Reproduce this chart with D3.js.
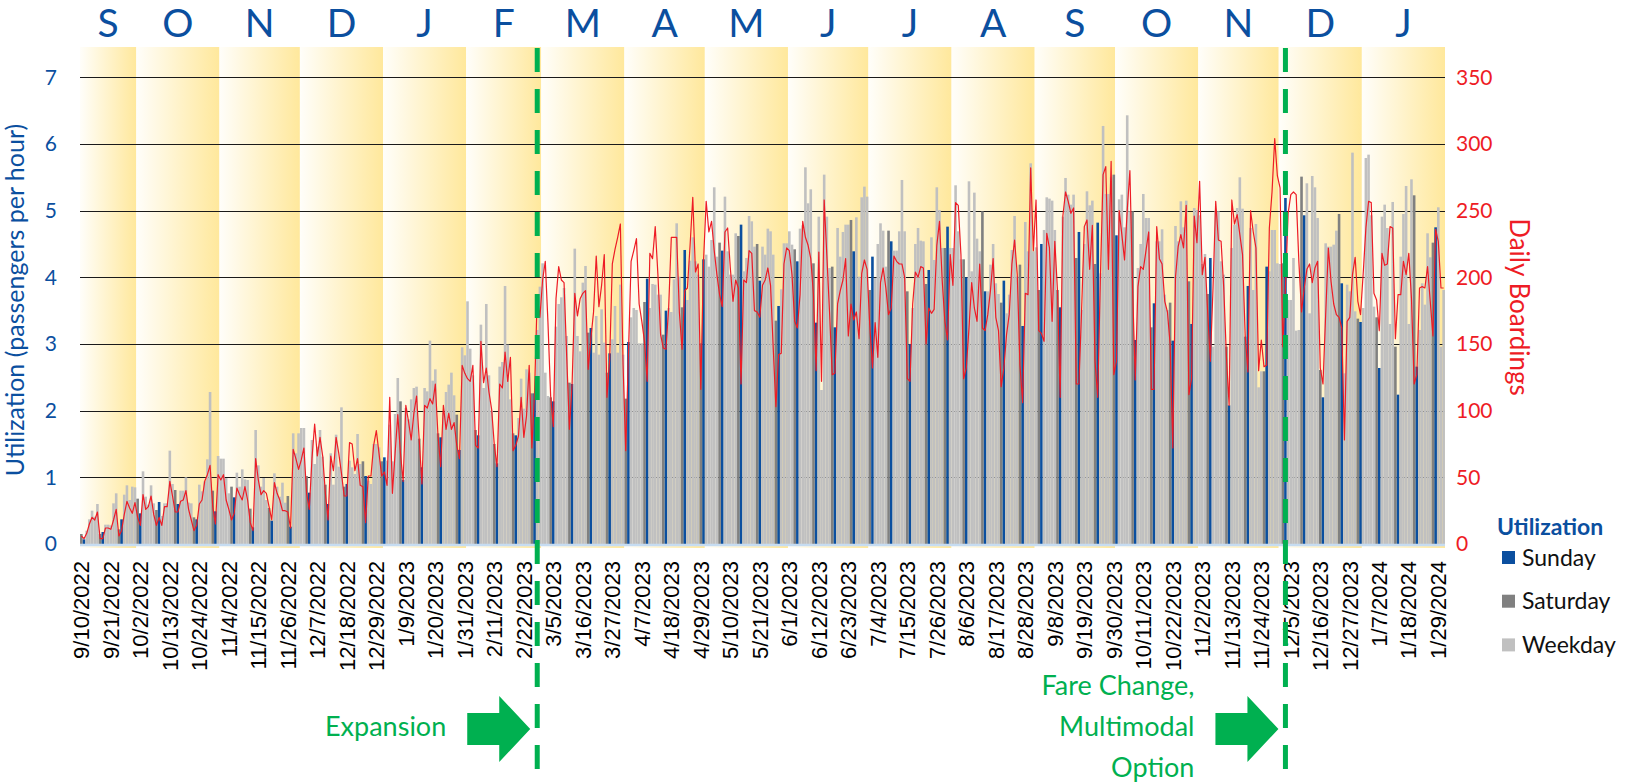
<!DOCTYPE html>
<html>
<head>
<meta charset="utf-8">
<title>Utilization and Daily Boardings</title>
<style>
body { margin: 0; background: #fff; }
svg text { font-family: Lato, "Open Sans", sans-serif; }
</style>
</head>
<body>
<script src="https://cdn.jsdelivr.net/npm/d3@7/dist/d3.min.js"></script>
<script>

// first day of the series (a Saturday)
var startDate = "09/10/2022";

// utilization, passengers per hour, one value per day (rows = weeks starting Saturday)
var utilization = [
0.15,0.07,0.20,0.37,0.50,0.41,0.60,
0.15,0.18,0.29,0.29,0.28,0.61,0.76,
0.22,0.37,0.74,0.88,0.66,0.86,0.85,
0.68,0.46,1.09,0.71,0.59,0.88,0.61,
0.51,0.63,0.42,0.61,0.61,1.40,0.90,
0.81,0.60,0.80,0.80,1.00,0.62,0.61,
0.40,0.37,0.89,0.79,0.94,1.27,2.28,
0.80,0.49,1.32,1.28,1.28,0.99,0.76,
0.86,0.70,1.07,0.86,1.12,0.97,0.96,
0.53,0.25,1.71,1.18,0.86,0.99,0.66,
0.54,0.35,1.06,0.86,0.71,0.92,0.62,
0.72,0.26,1.66,1.36,1.66,1.74,1.74,
1.02,0.77,1.56,1.20,1.46,1.71,1.31,
0.89,0.60,1.36,0.89,1.64,1.16,2.05,
0.86,0.90,1.25,1.15,1.05,1.65,1.20,
1.24,1.02,0.95,0.90,1.50,1.50,1.45,
1.24,1.30,1.25,1.79,1.24,1.95,2.49,
2.14,0.96,2.04,1.87,2.17,2.34,2.36,
1.58,1.15,2.34,2.29,3.05,2.45,2.62,
1.66,1.60,1.97,2.28,2.39,2.57,2.23,
1.94,1.41,2.95,2.83,3.64,2.93,2.53,
1.71,1.63,3.29,2.34,3.60,2.53,2.00,
1.50,1.21,2.66,2.73,3.87,2.99,2.17,
1.66,1.63,1.89,2.48,2.03,2.62,2.57,
2.26,2.26,3.21,3.86,4.21,2.57,2.22,
2.20,2.14,3.26,3.60,3.70,3.84,3.12,
2.42,2.40,4.43,3.12,2.89,3.92,4.17,
3.17,3.24,2.87,3.42,2.84,3.52,3.02,
2.57,2.86,3.07,3.57,2.87,3.89,2.84,
2.18,3.03,3.40,3.54,3.51,3.01,3.01,
3.63,3.98,3.54,3.90,3.89,3.74,3.74,
3.14,3.50,3.54,3.48,3.97,4.81,4.01,
3.55,4.41,3.66,4.25,4.60,4.24,4.04,
3.01,4.27,4.34,4.16,4.56,5.35,4.31,
4.52,4.40,5.21,4.39,4.04,4.04,4.66,
4.62,4.79,4.09,4.29,4.92,4.84,4.46,
4.50,3.95,4.46,4.34,4.73,4.69,4.34,
3.35,3.57,3.82,4.51,4.51,4.69,4.49,
4.42,4.24,4.73,4.78,5.65,5.11,5.32,
4.21,3.32,4.91,2.31,5.54,4.91,4.14,
4.16,3.25,4.74,4.31,4.68,4.79,4.79,
4.86,4.39,4.90,4.01,5.20,5.36,5.21,
3.81,4.31,3.99,4.50,4.81,4.70,4.16,
4.70,4.54,4.40,4.40,4.69,5.46,4.69,
3.79,3.00,3.54,4.50,4.74,4.55,4.54,
3.90,4.11,4.60,4.26,5.35,5.01,4.44,
4.44,4.76,4.44,4.44,5.38,4.69,4.27,
4.27,4.00,5.44,4.09,5.27,4.58,4.39,
4.99,3.79,3.79,4.19,4.50,3.91,3.75,
3.62,3.95,3.46,3.74,4.41,4.92,4.01,
4.19,3.27,4.83,4.39,5.71,4.39,4.45,
3.81,4.50,4.71,5.20,5.18,5.15,4.71,
3.81,3.55,4.91,5.49,5.24,5.09,5.24,
4.29,4.68,3.51,4.50,5.29,5.08,5.15,
4.20,4.82,4.06,6.27,5.25,5.25,5.50,
5.54,4.63,5.17,5.24,4.75,6.43,4.99,
4.99,3.06,4.14,4.50,5.25,4.89,4.89,
3.25,3.61,4.54,4.54,4.72,3.74,3.51,
3.62,3.05,4.77,4.54,5.14,4.75,5.15,
3.94,3.30,5.04,5.01,4.93,4.20,4.35,
3.75,4.29,2.96,5.00,4.99,4.24,4.04,
2.96,2.08,4.44,4.79,5.04,5.50,5.03,
3.11,3.87,4.74,3.81,4.80,2.35,2.59,
2.59,4.16,4.09,4.71,4.71,4.21,4.20,
4.21,5.19,3.66,3.66,4.29,3.20,3.21,
5.51,4.93,5.41,3.46,5.52,5.35,4.89,
2.61,2.20,4.51,4.46,4.46,4.49,4.70,
4.95,3.91,2.56,3.89,3.79,5.87,3.49,
3.38,3.33,3.54,5.79,5.84,4.93,3.56,
3.40,2.64,4.91,5.09,4.74,3.30,5.13,
2.96,2.24,4.31,4.95,5.37,3.30,5.47,
5.23,2.66,3.21,3.91,3.59,4.66,4.30,
4.52,4.75,5.05,2.96,3.81
];

// daily boardings, one value per day
var boardings = [
6,4,8,15,20,18,24,
4,4,12,12,11,18,26,
6,10,22,32,27,23,31,
20,14,37,26,28,36,22,
14,20,14,28,28,47,36,
24,24,32,33,40,26,18,
10,14,30,33,47,52,59,
28,15,52,48,52,33,26,
18,23,42,37,33,43,33,
16,10,64,48,37,40,38,
28,18,46,38,33,25,25,
24,12,71,64,56,63,72,
38,26,64,90,66,80,66,
38,18,66,55,80,68,53,
36,36,76,75,55,64,44,
43,16,51,51,74,85,68,
51,54,44,110,38,68,97,
68,47,104,92,78,98,111,
78,45,104,102,109,105,120,
81,58,104,86,98,86,91,
74,64,134,128,124,122,134,
74,72,152,121,132,114,101,
74,58,120,117,144,122,140,
70,74,81,110,80,96,134,
72,114,186,170,198,212,166,
111,88,184,208,198,196,140,
86,120,188,171,184,188,190,
131,154,174,216,178,194,217,
110,138,210,221,230,240,135,
70,142,212,220,229,180,167,
152,122,218,214,238,202,157,
147,146,177,230,230,230,174,
146,190,192,224,260,204,210,
116,212,257,234,242,220,202,
187,178,234,237,207,182,198,
192,120,198,196,220,218,175,
174,170,194,198,207,194,147,
103,142,143,210,222,220,202,
167,162,187,242,230,224,214,
187,130,219,122,258,216,174,
127,128,180,190,198,214,156,
180,168,174,154,203,213,206,
164,132,166,140,196,207,192,
172,177,216,212,210,210,200,
124,122,180,204,200,208,207,
150,177,173,176,224,242,198,
167,153,217,194,256,254,217,
124,132,162,196,177,167,210,
162,160,172,190,214,170,160,
118,132,157,172,210,228,202,
134,106,188,187,282,220,258,
160,158,152,233,222,167,227,
190,110,246,264,257,248,252,
120,120,176,238,243,206,239,
137,110,200,277,283,206,287,
127,137,250,232,213,250,280,
192,123,193,208,206,220,234,
116,116,238,214,210,182,174,
150,72,200,223,232,222,254,
112,124,246,226,272,202,215,
174,137,192,257,228,227,192,
140,104,258,240,247,232,217,
156,129,250,234,222,130,153,
133,134,237,264,304,276,267,
148,192,248,262,264,262,212,
174,192,206,210,196,207,212,
132,120,172,222,197,180,172,
170,162,78,167,170,202,215,
182,172,203,237,257,256,188,
183,160,218,209,210,238,237,
154,187,187,212,202,218,184,
120,127,192,193,192,208,182,
156,236,227,192,192
];

var tickLabels = [
"9/10/2022","9/21/2022","10/2/2022","10/13/2022","10/24/2022","11/4/2022","11/15/2022",
"11/26/2022","12/7/2022","12/18/2022","12/29/2022","1/9/2023","1/20/2023","1/31/2023",
"2/11/2023","2/22/2023","3/5/2023","3/16/2023","3/27/2023","4/7/2023","4/18/2023",
"4/29/2023","5/10/2023","5/21/2023","6/1/2023","6/12/2023","6/23/2023","7/4/2023",
"7/15/2023","7/26/2023","8/6/2023","8/17/2023","8/28/2023","9/8/2023","9/19/2023",
"9/30/2023","10/11/2023","10/22/2023","11/2/2023","11/13/2023","11/24/2023","12/5/2023",
"12/16/2023","12/27/2023","1/7/2024","1/18/2024","1/29/2024"
];

var monthLetters = ["S","O","N","D","J","F","M","A","M","J","J","A","S","O","N","D","J"];
var leftTicks = [0,1,2,3,4,5,6,7];
var rightTicks = [0,50,100,150,200,250,300,350];
var legendItems = ["Sunday","Saturday","Weekday"];
var legendColors = ["#0b4f9f","#808080","#c0c0c0"];
var eventDates = ["2/27/2023","12/3/2023"];
var eventLabels = [["Expansion"],["Fare Change,","Multimodal","Option"]];

var width = 1631, height = 783;
var left = 80, right = 1445, zeroY = 544, sevenY = 77.3;
var blue = "#0b4f9f", red = "#ee1c25", green = "#00b050";

var svg = d3.select("body").append("svg")
	.attr("width", width)
	.attr("height", height);

var parse = d3.timeParse("%m/%d/%Y");
var fmt = d3.timeFormat("%-m/%-d/%Y");
var first = parse(startDate);
var days = d3.range(utilization.length).map(function(i){ return d3.timeDay.offset(first, i); });
var keys = days.map(fmt);

var pad = 0.03;
var x = d3.scaleBand().domain(keys).range([left, right]).paddingInner(pad).paddingOuter(pad / 2);
var yL = d3.scaleLinear().domain([0, 7]).range([zeroY, sevenY]);
var yR = d3.scaleLinear().domain([0, 350]).range([zeroY, sevenY]);
var step = x.step();
function edge(i){ return i >= keys.length ? right : x(keys[i]) - step * pad / 2; }
function mid(k){ return x(k) + x.bandwidth() / 2; }

// gradient for the month bands
var defs = svg.append("defs");
var grad = defs.append("linearGradient").attr("id", "band");
grad.append("stop").attr("offset", "0%").attr("stop-color", "#fffefa");
grad.append("stop").attr("offset", "100%").attr("stop-color", "#ffe89c");

// month bands
var months = [];
days.forEach(function(d, i){
	if (i === 0 || d.getDate() === 1) months.push({start: i});
});
months.forEach(function(m, k){
	m.end = k < months.length - 1 ? months[k + 1].start : keys.length;
	m.letter = monthLetters[k];
});

svg.append("g").selectAll("rect")
	.data(months)
	.enter()
	.append("rect")
	.attr("x", function(d){ return edge(d.start); })
	.attr("width", function(d){ return edge(d.end) - edge(d.start); })
	.attr("y", 47)
	.attr("height", 548 - 47)
	.attr("fill", "url(#band)");

svg.append("g").selectAll("text")
	.data(months)
	.enter()
	.append("text")
	.attr("x", function(d){ return (edge(d.start) + edge(d.end)) / 2; })
	.attr("y", 37)
	.attr("text-anchor", "middle")
	.attr("font-size", 39)
	.attr("fill", blue)
	.text(function(d){ return d.letter; });

// gridlines
svg.append("g").selectAll("line")
	.data(leftTicks.filter(function(t){ return t > 0; }))
	.enter()
	.append("line")
	.attr("x1", left)
	.attr("x2", right)
	.attr("y1", function(d){ return Math.round(yL(d)) + 0.5; })
	.attr("y2", function(d){ return Math.round(yL(d)) + 0.5; })
	.attr("stroke", "#1a1a1a")
	.attr("stroke-width", 1);

// bars
svg.append("g").selectAll("rect")
	.data(keys)
	.enter()
	.append("rect")
	.attr("x", function(d){ return x(d); })
	.attr("width", x.bandwidth())
	.attr("y", function(d, i){ return yL(utilization[i]); })
	.attr("height", function(d, i){ return zeroY - yL(utilization[i]); })
	.attr("fill", function(d, i){
		var wd = days[i].getDay();
		return wd === 0 ? legendColors[0] : (wd === 6 ? legendColors[1] : legendColors[2]);
	});

// zero line
svg.append("line")
	.attr("x1", left).attr("x2", right)
	.attr("y1", zeroY + 1).attr("y2", zeroY + 1)
	.attr("stroke", "#c6dcf1")
	.attr("stroke-width", 2.5);

// boardings line
var line = d3.line()
	.x(function(d, i){ return mid(keys[i]); })
	.y(function(d){ return yR(d); });

svg.append("path")
	.datum(boardings)
	.attr("d", line)
	.attr("fill", "none")
	.attr("stroke", red)
	.attr("stroke-width", 1.2)
	.attr("stroke-linejoin", "round");

// left axis labels
var axL = svg.append("g")
	.attr("transform", "translate(" + left + ",0)")
	.call(d3.axisLeft(yL).tickValues(leftTicks).tickSize(0).tickPadding(23).tickFormat(d3.format("d")));
axL.select(".domain").remove();
axL.selectAll("text").attr("font-size", 21).attr("fill", blue).style("font-family", "Lato, sans-serif");

// right axis labels
var axR = svg.append("g")
	.attr("transform", "translate(" + right + ",0)")
	.call(d3.axisRight(yR).tickValues(rightTicks).tickSize(0).tickPadding(11).tickFormat(d3.format("d")));
axR.select(".domain").remove();
axR.selectAll("text").attr("font-size", 21).attr("fill", red).style("font-family", "Lato, sans-serif");

// date labels
var axB = svg.append("g")
	.attr("transform", "translate(0," + zeroY + ")")
	.call(d3.axisBottom(x).tickValues(tickLabels).tickSize(0));
axB.select(".domain").remove();
axB.selectAll("text")
	.attr("transform", "rotate(-90)")
	.attr("text-anchor", "end")
	.attr("x", -17)
	.attr("y", 0)
	.attr("dy", "0.35em")
	.attr("font-size", 22)
	.attr("fill", "#000")
	.style("font-family", "'Liberation Sans', Arial, sans-serif");

// axis titles
svg.append("text")
	.attr("transform", "translate(24,300) rotate(-90)")
	.attr("text-anchor", "middle")
	.attr("font-size", 25)
	.attr("fill", blue)
	.text("Utilization (passengers per hour)");

svg.append("text")
	.attr("transform", "translate(1510,307) rotate(90)")
	.attr("text-anchor", "middle")
	.attr("font-size", 26)
	.attr("fill", red)
	.text("Daily Boardings");

// legend
svg.append("text")
	.attr("x", 1497)
	.attr("y", 535)
	.attr("font-size", 23)
	.attr("font-weight", "bold")
	.attr("fill", blue)
	.text("Utilization");

var leg = svg.append("g").selectAll("g")
	.data(legendItems)
	.enter()
	.append("g")
	.attr("transform", function(d, i){ return "translate(1502," + (551 + i * 43.7) + ")"; });
leg.append("rect")
	.attr("width", 13).attr("height", 13)
	.attr("fill", function(d, i){ return legendColors[i]; });
leg.append("text")
	.attr("x", 20)
	.attr("y", 6.5)
	.attr("dy", "0.35em")
	.attr("font-size", 23)
	.attr("fill", "#111")
	.text(function(d){ return d; });

// event markers
var ev = svg.append("g").selectAll("g")
	.data(eventDates)
	.enter()
	.append("g")
	.attr("transform", function(d){ return "translate(" + mid(d) + ",0)"; });

ev.append("line")
	.attr("y1", 48).attr("y2", height)
	.attr("stroke", green)
	.attr("stroke-width", 5)
	.attr("stroke-dasharray", "24,17");

var ay = 729;
ev.append("path")
	.attr("d", "M-70," + (ay - 16) + "H-38V" + (ay - 33) + "L-7," + ay + "L-38," + (ay + 33) + "V" + (ay + 16) + "H-70Z")
	.attr("fill", green);

ev.each(function(d, i){
	var lines = eventLabels[i];
	var g = d3.select(this);
	lines.forEach(function(t, j){
		g.append("text")
			.attr("x", -91)
			.attr("y", 727 + (j - (lines.length - 1) / 2) * 41)
			.attr("dy", "0.35em")
			.attr("text-anchor", "end")
			.attr("font-size", 27)
			.attr("fill", green)
			.text(t);
	});
});

</script>
</body>
</html>
